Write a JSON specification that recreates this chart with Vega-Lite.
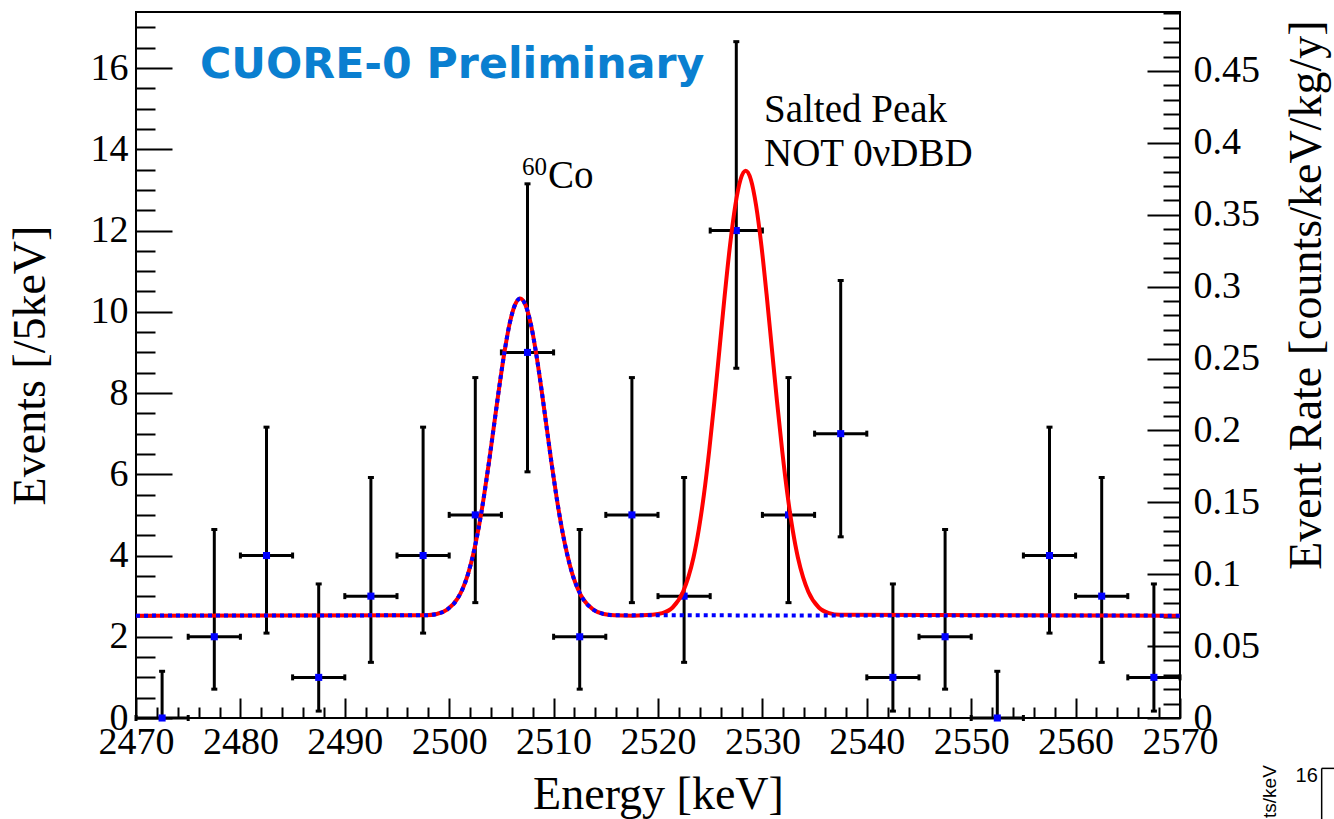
{
  "$schema": "https://vega.github.io/schema/vega-lite/v6.json",
  "width": 1044,
  "height": 706,
  "autosize": "none",
  "padding": {"left": 136, "top": 12, "right": 154, "bottom": 101},
  "background": "white",
  "config": {
    "view": {"stroke": "black", "strokeWidth": 2},
    "font": "Liberation Serif",
    "axis": {
      "grid": false,
      "domain": false,
      "labelFont": "Liberation Serif",
      "labelFontSize": 38,
      "labelColor": "black",
      "titleFont": "Liberation Serif",
      "titleFontSize": 46,
      "titleFontWeight": "normal",
      "titleColor": "black",
      "tickColor": "black",
      "tickWidth": 2,
      "labelOverlap": false,
      "labelFlush": false
    }
  },
  "datasets": {
    "points": [
      {"E": 2472.5, "elo": 2470, "ehi": 2475, "n": 0, "lo": 0, "hi": 1.15},
      {"E": 2477.5, "elo": 2475, "ehi": 2480, "n": 2, "lo": 0.71, "hi": 4.64},
      {"E": 2482.5, "elo": 2480, "ehi": 2485, "n": 4, "lo": 2.09, "hi": 7.16},
      {"E": 2487.5, "elo": 2485, "ehi": 2490, "n": 1, "lo": 0.17, "hi": 3.30},
      {"E": 2492.5, "elo": 2490, "ehi": 2495, "n": 3, "lo": 1.37, "hi": 5.92},
      {"E": 2497.5, "elo": 2495, "ehi": 2500, "n": 4, "lo": 2.09, "hi": 7.16},
      {"E": 2502.5, "elo": 2500, "ehi": 2505, "n": 5, "lo": 2.84, "hi": 8.38},
      {"E": 2507.5, "elo": 2505, "ehi": 2510, "n": 9, "lo": 6.06, "hi": 13.15},
      {"E": 2512.5, "elo": 2510, "ehi": 2515, "n": 2, "lo": 0.71, "hi": 4.64},
      {"E": 2517.5, "elo": 2515, "ehi": 2520, "n": 5, "lo": 2.84, "hi": 8.38},
      {"E": 2522.5, "elo": 2520, "ehi": 2525, "n": 3, "lo": 1.37, "hi": 5.92},
      {"E": 2527.5, "elo": 2525, "ehi": 2530, "n": 12, "lo": 8.61, "hi": 16.65},
      {"E": 2532.5, "elo": 2530, "ehi": 2535, "n": 5, "lo": 2.84, "hi": 8.38},
      {"E": 2537.5, "elo": 2535, "ehi": 2540, "n": 7, "lo": 4.46, "hi": 10.77},
      {"E": 2542.5, "elo": 2540, "ehi": 2545, "n": 1, "lo": 0.17, "hi": 3.30},
      {"E": 2547.5, "elo": 2545, "ehi": 2550, "n": 2, "lo": 0.71, "hi": 4.64},
      {"E": 2552.5, "elo": 2550, "ehi": 2555, "n": 0, "lo": 0, "hi": 1.15},
      {"E": 2557.5, "elo": 2555, "ehi": 2560, "n": 4, "lo": 2.09, "hi": 7.16},
      {"E": 2562.5, "elo": 2560, "ehi": 2565, "n": 3, "lo": 1.37, "hi": 5.92},
      {"E": 2567.5, "elo": 2565, "ehi": 2570, "n": 1, "lo": 0.17, "hi": 3.30}
    ],
    "red": [
      {"E": 2470, "v": 2.52}, {"E": 2497.8, "v": 2.53}, {"E": 2498.8, "v": 2.56}, {"E": 2499.8, "v": 2.67},
      {"E": 2500.8, "v": 2.94}, {"E": 2501.3, "v": 3.19}, {"E": 2501.8, "v": 3.54}, {"E": 2502.3, "v": 4.03},
      {"E": 2502.8, "v": 4.65}, {"E": 2503.3, "v": 5.41}, {"E": 2503.8, "v": 6.28}, {"E": 2504.3, "v": 7.22},
      {"E": 2504.8, "v": 8.16}, {"E": 2505.3, "v": 9.02}, {"E": 2505.8, "v": 9.72}, {"E": 2506.3, "v": 10.17},
      {"E": 2506.8, "v": 10.33}, {"E": 2507.3, "v": 10.17}, {"E": 2507.8, "v": 9.72}, {"E": 2508.3, "v": 9.02},
      {"E": 2508.8, "v": 8.16}, {"E": 2509.3, "v": 7.22}, {"E": 2509.8, "v": 6.28}, {"E": 2510.3, "v": 5.41},
      {"E": 2510.8, "v": 4.65}, {"E": 2511.3, "v": 4.03}, {"E": 2511.8, "v": 3.54}, {"E": 2512.3, "v": 3.19},
      {"E": 2512.8, "v": 2.94}, {"E": 2513.8, "v": 2.67}, {"E": 2514.8, "v": 2.56}, {"E": 2515.8, "v": 2.53},
      {"E": 2517.6, "v": 2.52}, {"E": 2519.4, "v": 2.54}, {"E": 2520.4, "v": 2.58}, {"E": 2521.4, "v": 2.72},
      {"E": 2522.4, "v": 3.11}, {"E": 2522.9, "v": 3.46}, {"E": 2523.4, "v": 3.95}, {"E": 2523.9, "v": 4.63},
      {"E": 2524.4, "v": 5.50}, {"E": 2524.9, "v": 6.57}, {"E": 2525.4, "v": 7.79}, {"E": 2525.9, "v": 9.11},
      {"E": 2526.4, "v": 10.43}, {"E": 2526.9, "v": 11.64}, {"E": 2527.4, "v": 12.61}, {"E": 2527.9, "v": 13.25},
      {"E": 2528.4, "v": 13.47}, {"E": 2528.9, "v": 13.25}, {"E": 2529.4, "v": 12.61}, {"E": 2529.9, "v": 11.64},
      {"E": 2530.4, "v": 10.43}, {"E": 2530.9, "v": 9.11}, {"E": 2531.4, "v": 7.79}, {"E": 2531.9, "v": 6.57},
      {"E": 2532.4, "v": 5.50}, {"E": 2532.9, "v": 4.63}, {"E": 2533.4, "v": 3.95}, {"E": 2533.9, "v": 3.46},
      {"E": 2534.4, "v": 3.11}, {"E": 2535.4, "v": 2.72}, {"E": 2536.4, "v": 2.58}, {"E": 2537.4, "v": 2.54},
      {"E": 2570, "v": 2.52}
    ],
    "blue": [
      {"E": 2470, "v": 2.52}, {"E": 2497.8, "v": 2.53}, {"E": 2498.8, "v": 2.56}, {"E": 2499.8, "v": 2.67},
      {"E": 2500.8, "v": 2.94}, {"E": 2501.3, "v": 3.19}, {"E": 2501.8, "v": 3.54}, {"E": 2502.3, "v": 4.03},
      {"E": 2502.8, "v": 4.65}, {"E": 2503.3, "v": 5.41}, {"E": 2503.8, "v": 6.28}, {"E": 2504.3, "v": 7.22},
      {"E": 2504.8, "v": 8.16}, {"E": 2505.3, "v": 9.02}, {"E": 2505.8, "v": 9.72}, {"E": 2506.3, "v": 10.17},
      {"E": 2506.8, "v": 10.33}, {"E": 2507.3, "v": 10.17}, {"E": 2507.8, "v": 9.72}, {"E": 2508.3, "v": 9.02},
      {"E": 2508.8, "v": 8.16}, {"E": 2509.3, "v": 7.22}, {"E": 2509.8, "v": 6.28}, {"E": 2510.3, "v": 5.41},
      {"E": 2510.8, "v": 4.65}, {"E": 2511.3, "v": 4.03}, {"E": 2511.8, "v": 3.54}, {"E": 2512.3, "v": 3.19},
      {"E": 2512.8, "v": 2.94}, {"E": 2513.8, "v": 2.67}, {"E": 2514.8, "v": 2.56}, {"E": 2515.8, "v": 2.53},
      {"E": 2570, "v": 2.52}
    ],
    "one": [{}]
  },
  "layer": [
    {
      "layer": [
        {
          "data": {"name": "points"},
          "mark": {"type": "rule", "color": "black", "strokeWidth": 3},
          "encoding": {
            "x": {
              "field": "E", "type": "quantitative",
              "scale": {"domain": [2470, 2570], "nice": false, "zero": false},
              "axis": {
                "orient": "bottom",
                "values": [2470,2480,2490,2500,2510,2520,2530,2540,2550,2560,2570],
                "tickSize": 20, "offset": -20,
                "format": "d",
                "labelPadding": 5,
                "labelOverlap": false,
                "title": "Energy [keV]",
                "titleX": 522, "titleY": 110,
                "titleAlign": "center", "titleBaseline": "alphabetic"
              }
            },
            "y": {
              "field": "lo", "type": "quantitative",
              "scale": {"domain": [0, 17.38], "nice": false, "zero": false},
              "axis": {
                "orient": "left",
                "values": [0,2,4,6,8,10,12,14,16],
                "tickSize": 36, "offset": -36,
                "format": "d",
                "labelPadding": 8,
                "labelOverlap": false,
                "title": "Events [/5keV]",
                "titleAngle": -90, "titleX": -128, "titleY": 353,
                "titleAlign": "center", "titleBaseline": "alphabetic"
              }
            },
            "y2": {"field": "hi"}
          }
        },
        {
          "data": {"name": "points"},
          "mark": {"type": "rule", "color": "black", "strokeWidth": 3},
          "encoding": {
            "x": {"field": "elo", "type": "quantitative"},
            "x2": {"field": "ehi"},
            "y": {"field": "n", "type": "quantitative"}
          }
        },
        {
          "data": {"name": "points"},
          "mark": {"type": "tick", "orient": "horizontal", "color": "black", "size": 6, "thickness": 3, "opacity": 1},
          "encoding": {
            "x": {"field": "E", "type": "quantitative"},
            "y": {"field": "hi", "type": "quantitative"}
          }
        },
        {
          "data": {"name": "points"},
          "mark": {"type": "tick", "orient": "horizontal", "color": "black", "size": 6, "thickness": 3, "opacity": 1},
          "encoding": {
            "x": {"field": "E", "type": "quantitative"},
            "y": {"field": "lo", "type": "quantitative"}
          }
        },
        {
          "data": {"name": "points"},
          "mark": {"type": "tick", "orient": "vertical", "color": "black", "size": 6, "thickness": 3, "opacity": 1},
          "encoding": {
            "x": {"field": "elo", "type": "quantitative"},
            "y": {"field": "n", "type": "quantitative"}
          }
        },
        {
          "data": {"name": "points"},
          "mark": {"type": "tick", "orient": "vertical", "color": "black", "size": 6, "thickness": 3, "opacity": 1},
          "encoding": {
            "x": {"field": "ehi", "type": "quantitative"},
            "y": {"field": "n", "type": "quantitative"}
          }
        },
        {
          "data": {"name": "points"},
          "mark": {"type": "square", "color": "#0000ff", "filled": true, "size": 50, "opacity": 1},
          "encoding": {
            "x": {"field": "E", "type": "quantitative"},
            "y": {"field": "n", "type": "quantitative"}
          }
        },
        {
          "data": {"name": "red"},
          "mark": {"type": "line", "color": "#ff0000", "strokeWidth": 4, "interpolate": "monotone", "clip": true},
          "encoding": {
            "x": {"field": "E", "type": "quantitative"},
            "y": {"field": "v", "type": "quantitative"}
          }
        },
        {
          "data": {"name": "blue"},
          "mark": {"type": "line", "color": "#0000ff", "strokeWidth": 4, "strokeDash": [4, 4], "interpolate": "monotone", "clip": true},
          "encoding": {
            "x": {"field": "E", "type": "quantitative"},
            "y": {"field": "v", "type": "quantitative"}
          }
        },
        {
          "data": {"name": "one"},
          "mark": {"type": "text", "text": "CUORE-0 Preliminary", "font": "DejaVu Sans", "fontWeight": "bold", "fontSize": 42.7, "color": "#0a7fd0", "align": "left", "baseline": "alphabetic"},
          "encoding": {
            "x": {"datum": 2476.13, "type": "quantitative"},
            "y": {"datum": 15.75, "type": "quantitative"}
          }
        },
        {
          "data": {"name": "one"},
          "mark": {"type": "text", "text": "60", "font": "Liberation Serif", "fontSize": 25, "color": "black", "align": "left", "baseline": "alphabetic"},
          "encoding": {
            "x": {"datum": 2506.97, "type": "quantitative"},
            "y": {"datum": 13.37, "type": "quantitative"}
          }
        },
        {
          "data": {"name": "one"},
          "mark": {"type": "text", "text": "Co", "font": "Liberation Serif", "fontSize": 39, "color": "black", "align": "left", "baseline": "alphabetic"},
          "encoding": {
            "x": {"datum": 2509.46, "type": "quantitative"},
            "y": {"datum": 13.05, "type": "quantitative"}
          }
        },
        {
          "data": {"name": "one"},
          "mark": {"type": "text", "text": ["Salted Peak", "NOT 0νDBD"], "lineHeight": 44, "font": "Liberation Serif", "fontSize": 39, "color": "black", "align": "left", "baseline": "alphabetic"},
          "encoding": {
            "x": {"datum": 2530.15, "type": "quantitative"},
            "y": {"datum": 14.68, "type": "quantitative"}
          }
        },
        {
          "data": {"name": "one"},
          "mark": {"type": "text", "text": "ts/keV", "font": "Liberation Sans", "fontSize": 19, "color": "black", "angle": -90, "align": "right", "baseline": "alphabetic"},
          "encoding": {
            "x": {"datum": 2579.2, "type": "quantitative"},
            "y": {"datum": -1.16, "type": "quantitative"}
          }
        },
        {
          "data": {"name": "one"},
          "mark": {"type": "text", "text": "16", "font": "Liberation Sans", "fontSize": 20, "color": "black", "align": "right", "baseline": "alphabetic"},
          "encoding": {
            "x": {"datum": 2583.2, "type": "quantitative"},
            "y": {"datum": -1.58, "type": "quantitative"}
          }
        },
        {
          "data": {"name": "one"},
          "mark": {"type": "rule", "color": "black", "strokeWidth": 1.5},
          "encoding": {
            "x": {"datum": 2583.57, "type": "quantitative"},
            "y": {"datum": -1.24, "type": "quantitative"},
            "y2": {"datum": -2.5}
          }
        },
        {
          "data": {"name": "one"},
          "mark": {"type": "rule", "color": "black", "strokeWidth": 1.5},
          "encoding": {
            "x": {"datum": 2583.57, "type": "quantitative"},
            "x2": {"datum": 2584.8},
            "y": {"datum": -1.24, "type": "quantitative"}
          }
        }
      ]
    },
    {
      "data": {"name": "points"},
      "mark": {"type": "point", "opacity": 0},
      "encoding": {
        "x": {
          "field": "E", "type": "quantitative",
          "scale": {"domain": [2470, 2570], "nice": false, "zero": false},
          "axis": {
            "orient": "bottom",
            "values": [2472,2474,2476,2478,2482,2484,2486,2488,2492,2494,2496,2498,2502,2504,2506,2508,2512,2514,2516,2518,2522,2524,2526,2528,2532,2534,2536,2538,2542,2544,2546,2548,2552,2554,2556,2558,2562,2564,2566,2568],
            "tickSize": 11, "offset": -11,
            "labels": false, "title": null
          }
        },
        "y": {
          "field": "n", "type": "quantitative",
          "scale": {"domain": [0, 17.38], "nice": false, "zero": false},
          "axis": {
            "orient": "left",
            "values": [0.5,1,1.5,2.5,3,3.5,4.5,5,5.5,6.5,7,7.5,8.5,9,9.5,10.5,11,11.5,12.5,13,13.5,14.5,15,15.5,16.5,17],
            "tickSize": 19, "offset": -19,
            "labels": false, "title": null
          }
        }
      }
    },
    {
      "data": {"name": "points"},
      "mark": {"type": "point", "opacity": 0},
      "encoding": {
        "y": {
          "field": "n", "type": "quantitative",
          "scale": {"domain": [0, 0.491], "nice": false, "zero": false},
          "axis": {
            "orient": "right",
            "values": [0,0.05,0.1,0.15,0.2,0.25,0.3,0.35,0.4,0.45],
            "tickSize": 33, "offset": -33,
            "labelExpr": "format(datum.value, '.2~f')",
            "labelPadding": 13,
            "labelOverlap": false,
            "title": "Event Rate [counts/keV/kg/y]",
            "titleAngle": -90, "titleX": 173, "titleY": 8,
            "titleAlign": "right", "titleBaseline": "alphabetic"
          }
        }
      }
    },
    {
      "data": {"name": "points"},
      "mark": {"type": "point", "opacity": 0},
      "encoding": {
        "y": {
          "field": "n", "type": "quantitative",
          "scale": {"domain": [0, 0.491], "nice": false, "zero": false},
          "axis": {
            "orient": "right",
            "values": [0.01,0.02,0.03,0.04,0.06,0.07,0.08,0.09,0.11,0.12,0.13,0.14,0.16,0.17,0.18,0.19,0.21,0.22,0.23,0.24,0.26,0.27,0.28,0.29,0.31,0.32,0.33,0.34,0.36,0.37,0.38,0.39,0.41,0.42,0.43,0.44,0.46,0.47,0.48,0.49],
            "tickSize": 17, "offset": -17,
            "labels": false, "title": null
          }
        }
      }
    }
  ],
  "resolve": {"scale": {"x": "independent", "y": "independent"}, "axis": {"x": "independent", "y": "independent"}}
}
